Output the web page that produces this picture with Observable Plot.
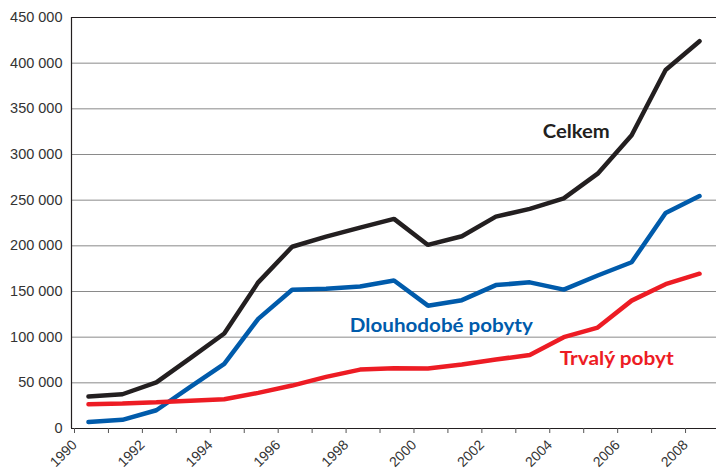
<!DOCTYPE html>
<html>
<head>
<meta charset="utf-8">
<script src="https://cdn.jsdelivr.net/npm/d3@7"></script>
<script src="https://cdn.jsdelivr.net/npm/@observablehq/plot@0.6"></script>
<style>
  html, body { margin: 0; padding: 0; background: #fff; }
</style>
</head>
<body>
<div id="chart"></div>
<script>
const years = [1990, 1991, 1992, 1993, 1994, 1995, 1996, 1997, 1998, 1999, 2000, 2001, 2002, 2003, 2004, 2005, 2006, 2007, 2008];
const celkem = [35000, 37500, 50500, 77000, 104000, 160000, 199000, 210000, 220000, 229500, 201000, 210500, 232000, 240500, 252000, 279000, 321000, 392500, 424000];
const dlouhodobe = [7000, 9500, 20000, 45500, 70800, 120000, 152000, 153000, 155500, 162000, 134500, 140500, 157000, 160000, 152000, 167500, 182000, 236000, 254500];
const trvaly = [26500, 27500, 28800, 30500, 32000, 39000, 47000, 56500, 64500, 66000, 65800, 70000, 75500, 80500, 100000, 110500, 140000, 158000, 169500];
const seriesNames = ["Celkem", "Dlouhodobé pobyty", "Trvalý pobyt"];
const seriesColors = ["#231f20", "#005bab", "#ed1c24"];
const yTicks = [0, 50000, 100000, 150000, 200000, 250000, 300000, 350000, 400000, 450000];
const xTicks = d3.range(1990, 2010);

const table = [];
[celkem, dlouhodobe, trvaly].forEach((vals, i) => {
  vals.forEach((v, j) => table.push({series: seriesNames[i], year: years[j], value: v}));
});

const labelsMiddle = [{series: "Celkem", x: 2004.87, y: 318600}];
const labelsStart = [
  {series: "Dlouhodobé pobyty", x: 1998.2, y: 105500},
  {series: "Trvalý pobyt", x: 2004.38, y: 69000}
];
const labelWidths = {"Celkem": 67, "Dlouhodobé pobyty": 183, "Trvalý pobyt": 114};

const fmt = d => d3.format(",")(d).replace(/,/g, " ");
const labelFont = {fontFamily: "Lato, 'Open Sans', sans-serif", fontWeight: "bold", fontSize: 19.5, lineAnchor: "bottom"};

const chart = Plot.plot({
  width: 716,
  height: 469,
  marginLeft: 71,
  marginRight: 0,
  marginTop: 17,
  marginBottom: 41,
  style: {fontFamily: "'Liberation Sans', Arial, sans-serif", fontSize: "14px", color: "#333", background: "#fff"},
  x: {domain: [1990, 2009], axis: null},
  y: {domain: [0, 450000], axis: null},
  color: {domain: seriesNames, range: seriesColors},
  marks: [
    Plot.gridY(yTicks.filter(d => d > 0 && d < 450000), {stroke: "#8a8a8a", strokeOpacity: 1, strokeWidth: 1}),
    Plot.ruleY([450000], {stroke: "#231f20", strokeWidth: 1.2}),
    Plot.ruleY([0], {stroke: "#231f20", strokeWidth: 1.2}),
    Plot.ruleX([1990], {stroke: "#231f20", strokeWidth: 1.2}),
    Plot.axisY({ticks: yTicks, tickFormat: fmt, tickSize: 0, tickPadding: 9, fontSize: 14.5, fill: "#333", label: null}),
    Plot.axisX({ticks: xTicks, tickFormat: d => d % 2 === 0 ? String(d) : "", tickSize: 5, stroke: "#555", tickRotate: -45, tickPadding: 9, dx: 3, fontSize: 14, fill: "#333", label: null}),
    Plot.line(table, {x: d => d.year + 0.5, y: "value", z: "series", stroke: "series", strokeWidth: 4.5, strokeLinejoin: "miter", strokeLinecap: "round"}),
    Plot.text(labelsMiddle, {x: "x", y: "y", text: "series", fill: "series", textAnchor: "middle", ...labelFont}),
    Plot.text(labelsStart, {x: "x", y: "y", text: "series", fill: "series", textAnchor: "start", ...labelFont})
  ]
});
d3.select(chart).selectAll("text").each(function() {
  const t = this.textContent;
  if (labelWidths[t]) {
    this.setAttribute("textLength", labelWidths[t]);
    this.setAttribute("lengthAdjust", "spacingAndGlyphs");
  }
});
document.getElementById("chart").appendChild(chart);
</script>
</body>
</html>
